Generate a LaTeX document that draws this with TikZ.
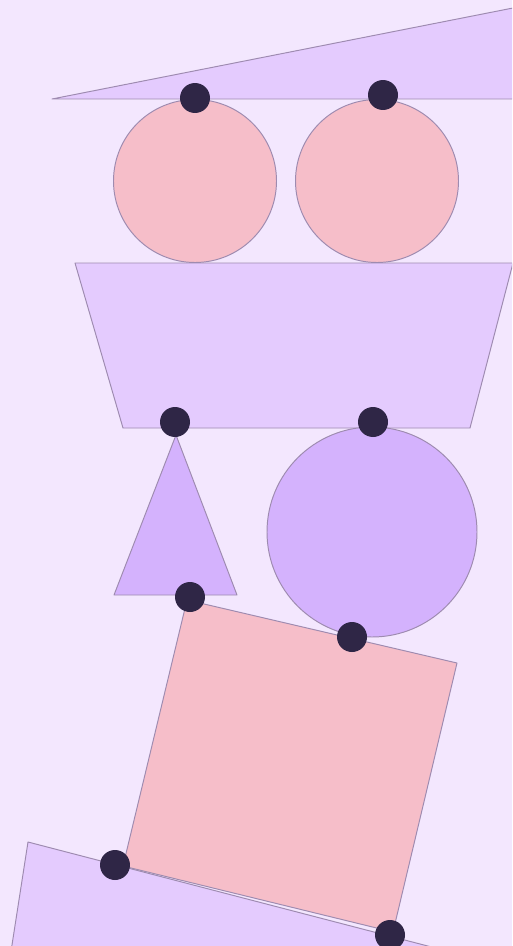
\documentclass[tikz,border=0pt]{standalone}
\usepackage{tikz}
\usetikzlibrary{positioning}

\definecolor{bgcol}{HTML}{F3E7FE}
\definecolor{lilac}{HTML}{E4CBFE}
\definecolor{violet}{HTML}{D4B2FD}
\definecolor{rose}{HTML}{F6BEC9}
\definecolor{rim}{HTML}{9E8BB0}
\definecolor{ink}{HTML}{2F2646}

\tikzset{
  piece/.style={draw=rim, line width=0.55pt, line join=round},
  pin/.style={circle, fill=ink, inner sep=0pt, minimum size=0.6cm}
}

\begin{document}
\begin{tikzpicture}[x=0.02cm, y=-0.02cm]
 \useasboundingbox (0,0) rectangle (512,946);
 \fill[bgcol] (0,0) rectangle (512,946);
 \clip (0,0) rectangle (512,946);
 % top wedge
 \filldraw[piece, fill=lilac] (52,99) -- (513,8) -- (513,99) -- cycle;
 % two balls
 \filldraw[piece, fill=rose] (195,181) circle (81.5);
 \filldraw[piece, fill=rose] (377,181) circle (81.5);
 % trapezoid
 \filldraw[piece, fill=lilac] (75,263) -- (513,263) -- (470,428) -- (123,428) -- cycle;
 % cone and big ball
 \filldraw[piece, fill=violet] (176,435) -- (237,595) -- (114,595) -- cycle;
 \filldraw[piece, fill=violet] (372,532) circle (105);
 % bottom slab
 \filldraw[piece, fill=lilac] (28,842) -- (520,970) -- (5,990) -- cycle;
 % tilted box
 \filldraw[piece, fill=rose] (187,600) -- (457,663) -- (393,932) -- (123,866) -- cycle;
 % contact points
 \node[pin] (p1) at (195,98) {};
 \node[pin] (p2) at (383,95) {};
 \node[pin] (p3) at (175,422) {};
 \node[pin] (p4) at (373,422) {};
 \node[pin] (p5) at (190,597) {};
 \node[pin] (p6) at (352,637) {};
 \node[pin] (p7) at (115,865) {};
 \node[pin] (p8) at (390,935) {};
\end{tikzpicture}
\end{document}
